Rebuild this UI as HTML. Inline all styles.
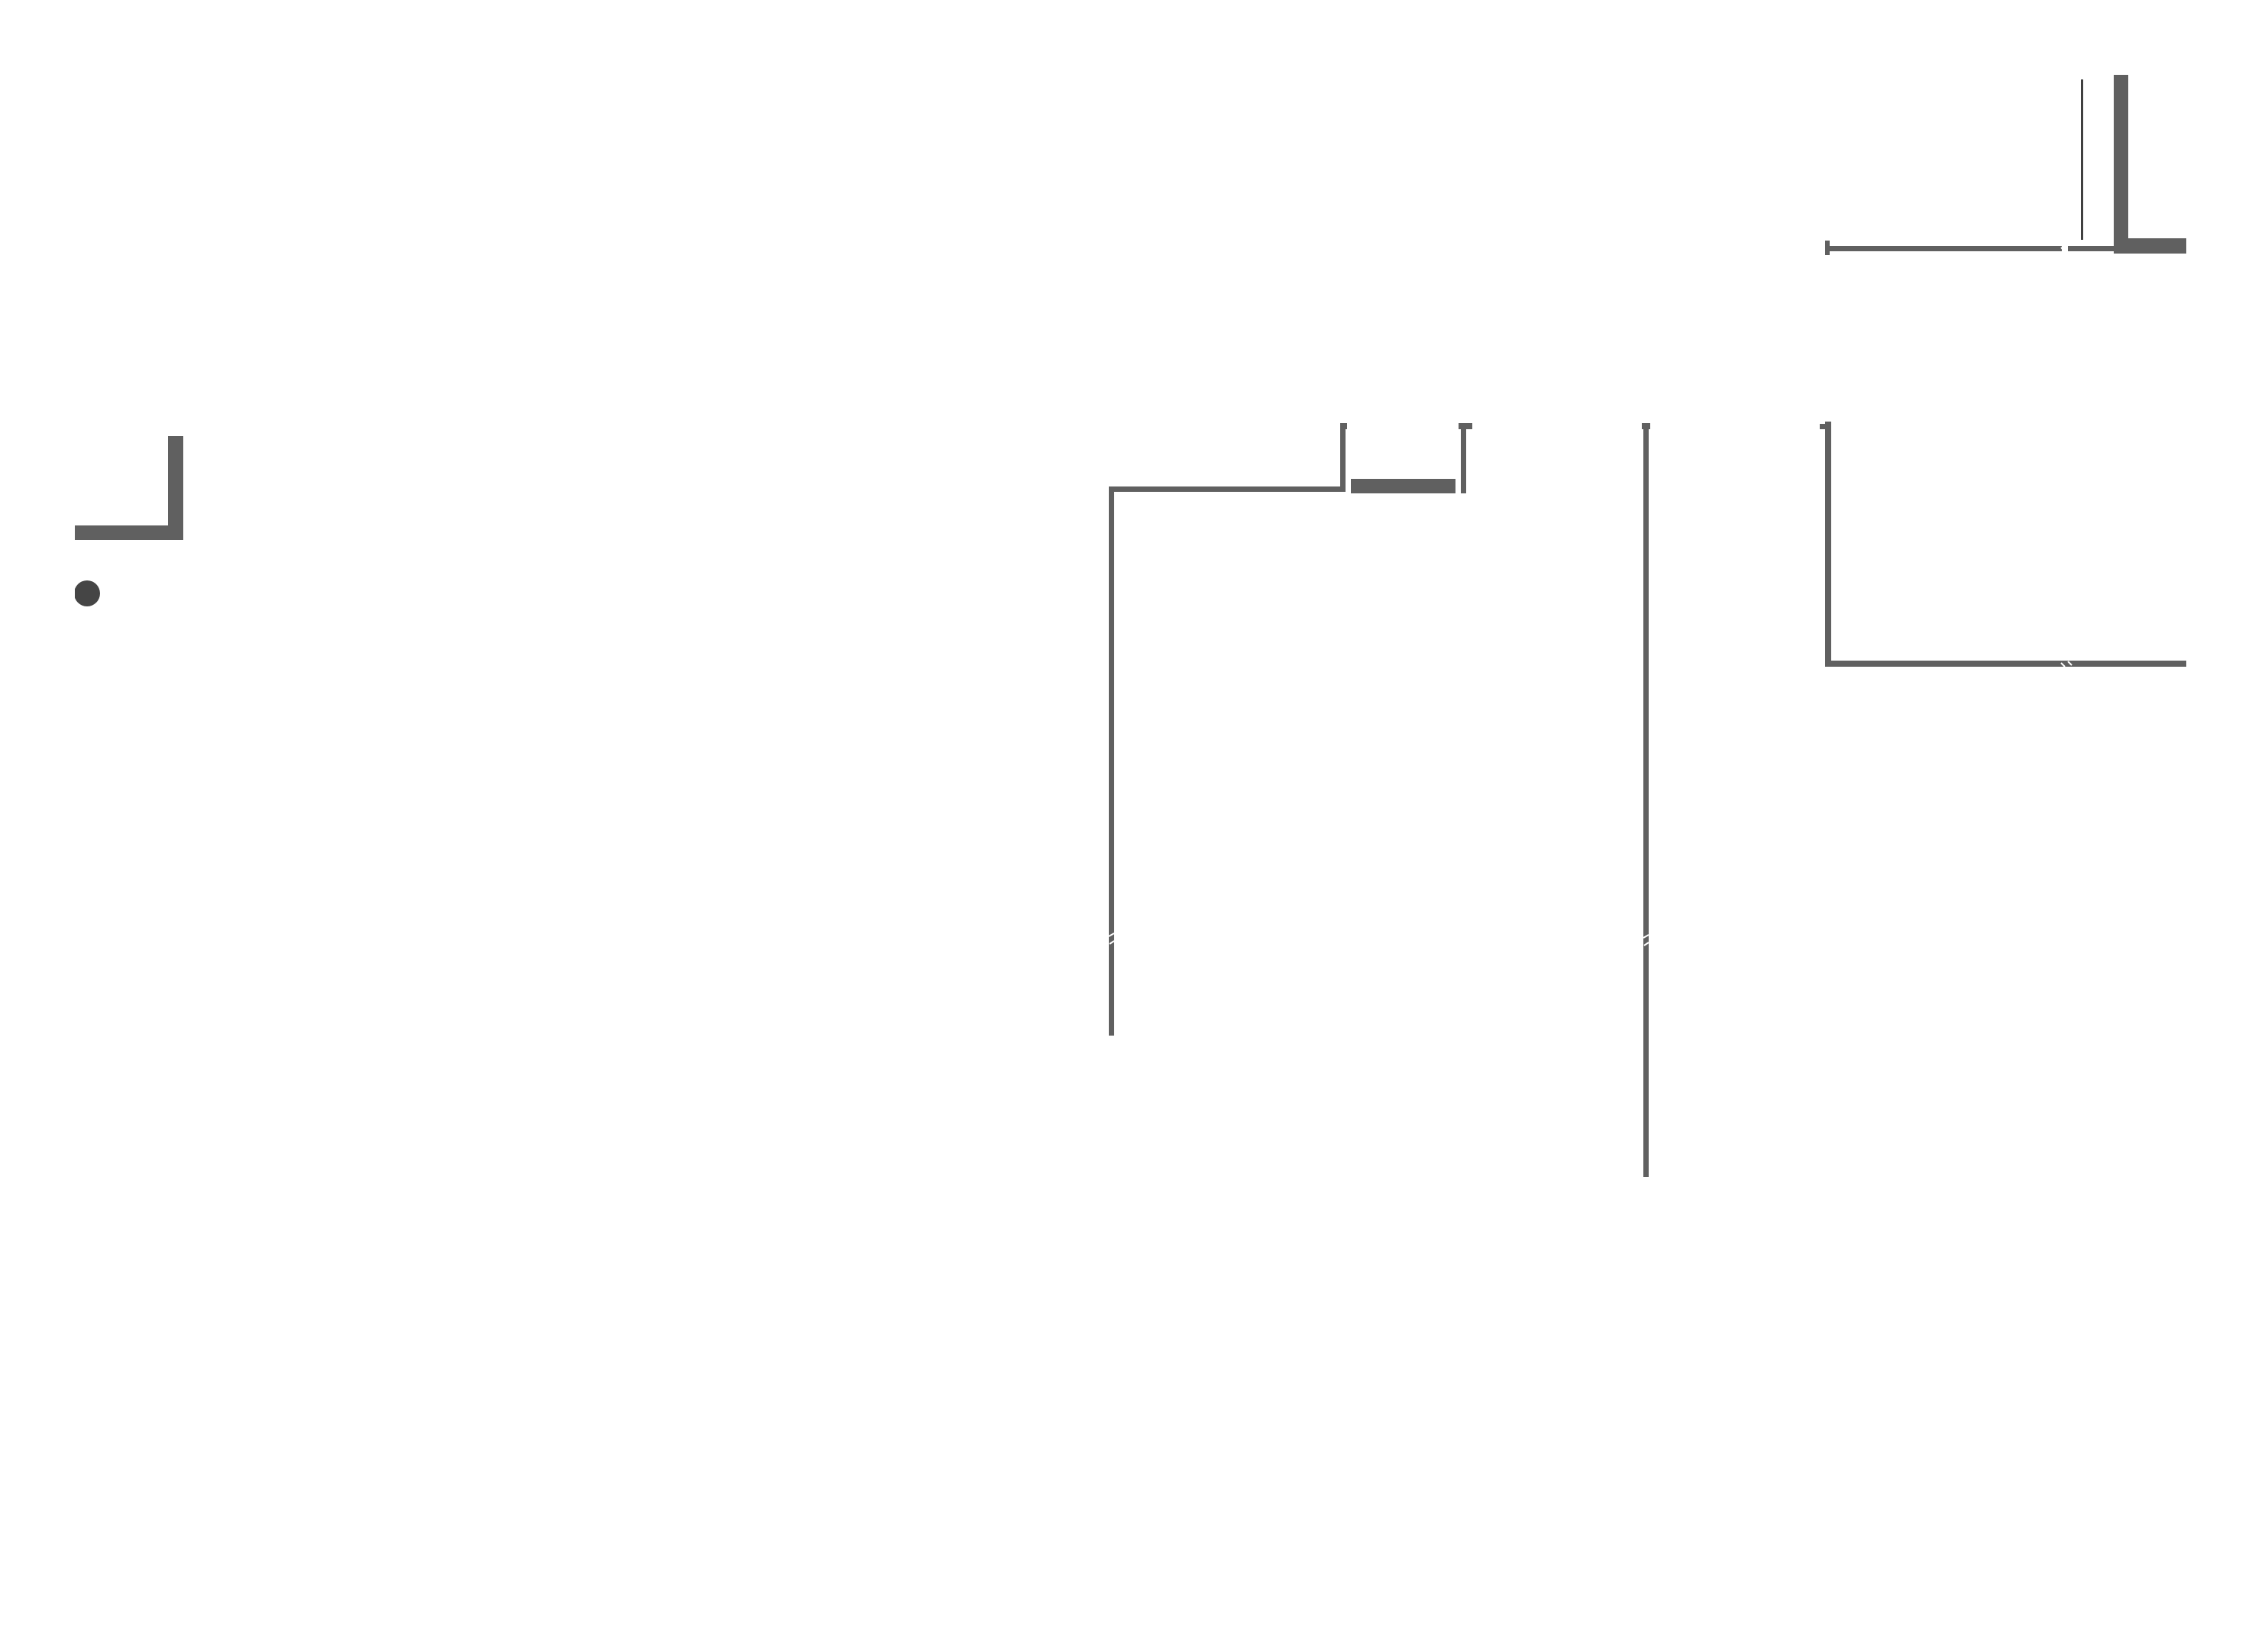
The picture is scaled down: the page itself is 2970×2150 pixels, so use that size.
<!DOCTYPE html>
<html><head><meta charset="utf-8"><style>
html,body{margin:0;padding:0;background:#fff;}
body{width:2970px;height:2150px;position:relative;overflow:hidden;}
</style></head><body>
<svg width="2970" height="2150" style="position:absolute;left:0;top:0">
<g fill="#606060">
<rect x="220" y="571" width="20" height="136"/>
<rect x="98" y="688" width="142" height="19"/>
<rect x="1452" y="637" width="7" height="719"/>
<rect x="1452" y="637" width="310" height="7"/>
<rect x="1755" y="554" width="7" height="90"/>
<rect x="1755" y="554" width="9" height="8"/>
<rect x="1769" y="627" width="137" height="19"/>
<rect x="1913" y="554" width="7" height="92"/>
<rect x="1910" y="554" width="18" height="8"/>
<rect x="2152" y="554" width="7" height="987"/>
<rect x="2150" y="554" width="11" height="8"/>
<rect x="2768" y="98" width="19" height="234"/>
<rect x="2768" y="312" width="95" height="20"/>
<rect x="2390" y="322" width="310" height="7"/>
<rect x="2708" y="322" width="61" height="7"/>
<rect x="2390" y="315" width="6" height="19"/>
<rect x="2390" y="552" width="8" height="321"/>
<rect x="2383" y="555" width="8" height="7"/>
<rect x="2390" y="865" width="473" height="8"/>
</g>
<rect x="2725" y="104" width="3" height="210" fill="#404040"/>
<circle cx="114" cy="777" r="17" fill="#454545"/>
<rect x="80" y="755" width="18" height="45" fill="#fff"/>
<g stroke="#fff" stroke-width="2">
<line x1="1452" y1="1226" x2="1459" y2="1222"/>
<line x1="1453" y1="1236" x2="1459" y2="1232"/>
<line x1="2152" y1="1228" x2="2159" y2="1224"/>
<line x1="2153" y1="1238" x2="2159" y2="1234"/>
<line x1="2699" y1="324" x2="2704" y2="329"/>
<line x1="2699" y1="868" x2="2704" y2="873"/>
<line x1="2708" y1="866" x2="2713" y2="871"/>
</g>
</svg>
</body></html>
